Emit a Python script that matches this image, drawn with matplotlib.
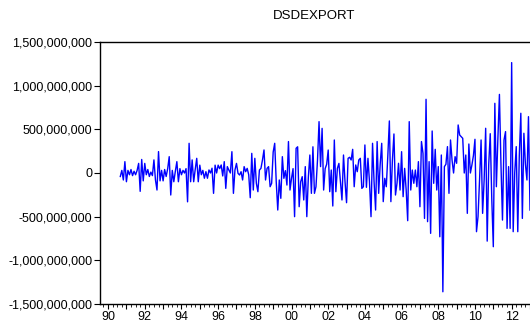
import matplotlib
matplotlib.use("Agg")
import matplotlib.pyplot as plt
import numpy as np
from matplotlib.ticker import FuncFormatter, FixedLocator, MultipleLocator

plt.rcParams['font.family'] = ['Liberation Sans', 'DejaVu Sans']

# Monthly series DSDEXPORT (millions), starting 1990M09
v1990 = [-40, 30, -80, 130]
v1991 = [-100, 30, -20, 40, -30, 20, -20, 30, 110, -210, 155, -90]
v1992 = [110, -20, 40, -40, 10, -30, 150, -80, -195, 245, -90, 30]
v1993 = [-90, 40, -40, 50, 187, -252, 30, -100, 20, 130, -100, 50]
v1994 = [-20, 30, 0, 50, -330, 340, -100, 150, -100, 40, 168, -100]
v1995 = [90, -20, 30, -60, 15, -60, 35, 0, 55, -233, 90, 0]
v1996 = [90, 50, 92, -34, 130, -176, 73, 34, 0, 244, -233, 34]
v1997 = [110, -4, -23, 15, -80, 73, 15, 53, -20, -283, 225, -195]
v1998 = [168, -118, -214, 34, 53, 149, 264, -80, 53, 73, -157, -118]
v1999 = [240, 340, -100, -424, -80, -290, 187, -61, 27, -138, 360, -195]
v2000 = [-61, 50, -500, 283, 300, -386, -100, -42, -309, 73, -500, -50]
v2001 = [206, -233, 300, -233, -157, 150, 588, 73, 511, -195, 50, 100]
v2002 = [263, -214, 34, -378, 378, -214, 53, 110, -100, -309, 206, -100]
v2003 = [-340, 168, 180, 149, 271, -157, 92, 15, 149, 168, -176, -157]
v2004 = [321, -164, 168, -100, -500, 340, -100, -424, 360, -233, 100, 340]
v2005 = [-328, -61, -157, 200, 596, -328, 149, 447, -252, -118, 111, -195]
v2006 = [244, -271, 53, -195, -546, 588, -195, 34, -118, 34, -157, 130]
v2007 = [-386, 360, 225, -520, 844, -557, 130, -691, 481, -118, 271, -195]
v2008 = [73, -730, 206, -1360, 73, 100, 302, -233, 378, 149, 0, 187]
v2009 = [111, 550, 435, 416, 397, 0, 206, -462, 332, 0, 92, 200]
v2010 = [386, -672, -500, -80, 378, -462, -80, 512, -780, 100, 450, -300]
v2011 = [-844, 798, -157, 400, 900, 100, -539, 378, 474, -634, 73, -634]
v2012 = [1264, -672, 0, 302, -672, 200, 684, -520, 455, 100, -80, 645]
v2013 = [-424]

start_year = 1990
start_month = 9
title = "DSDEXPORT"
label_years = [1990, 1992, 1994, 1996, 1998, 2000, 2002, 2004, 2006, 2008, 2010, 2012]
year_labels = ["90", "92", "94", "96", "98", "00", "02", "04", "06", "08", "10", "12"]

values = np.array(v1990 + v1991 + v1992 + v1993 + v1994 + v1995 + v1996 + v1997 +
                  v1998 + v1999 + v2000 + v2001 + v2002 + v2003 + v2004 + v2005 +
                  v2006 + v2007 + v2008 + v2009 + v2010 + v2011 + v2012 + v2013,
                  dtype=float) * 1e6
t = start_year + (start_month - 1) / 12 + np.arange(len(values)) / 12

fig = plt.figure(figsize=(5.30, 3.24), dpi=100)
ax = fig.add_axes([100 / 530, 1 - 304 / 324, 1 - 100 / 530, (304 - 42) / 324])
ax.plot(t, values, color=(0, 0, 1), lw=1.0)

ax.set_xlim(1989.56, 2013.0)
ax.set_ylim(-1.5e9, 1.5e9)
ax.yaxis.set_major_locator(MultipleLocator(5e8))
ax.yaxis.set_major_formatter(FuncFormatter(lambda v, p: f"{int(round(v)):,}"))

# every year a long tick, labels on even years; quarterly short ticks
all_years = list(range(1990, 2014))
lab_map = dict(zip(label_years, year_labels))
ax.xaxis.set_major_locator(FixedLocator(all_years))
ax.set_xticklabels([lab_map.get(y, "") for y in all_years])
ax.xaxis.set_minor_locator(FixedLocator([y + q for y in range(1989, 2014)
                                         for q in (0.25, 0.5, 0.75)]))

ax.tick_params(axis='x', which='major', direction='out', length=3.5, width=0.8,
               labelsize=9, pad=1.5)
ax.tick_params(axis='x', which='minor', direction='out', length=2, width=0.6)
ax.tick_params(axis='y', which='major', direction='out', length=4, width=0.8,
               labelsize=9, pad=1.5)

for s in ['left', 'top', 'bottom']:
    ax.spines[s].set_linewidth(1.0)
    ax.spines[s].set_color('black')
ax.spines['right'].set_visible(False)

fig.text(314 / 530, 1 - 16 / 324, title, ha='center', va='center', fontsize=9.5)

fig.savefig("out.png", dpi=100)
